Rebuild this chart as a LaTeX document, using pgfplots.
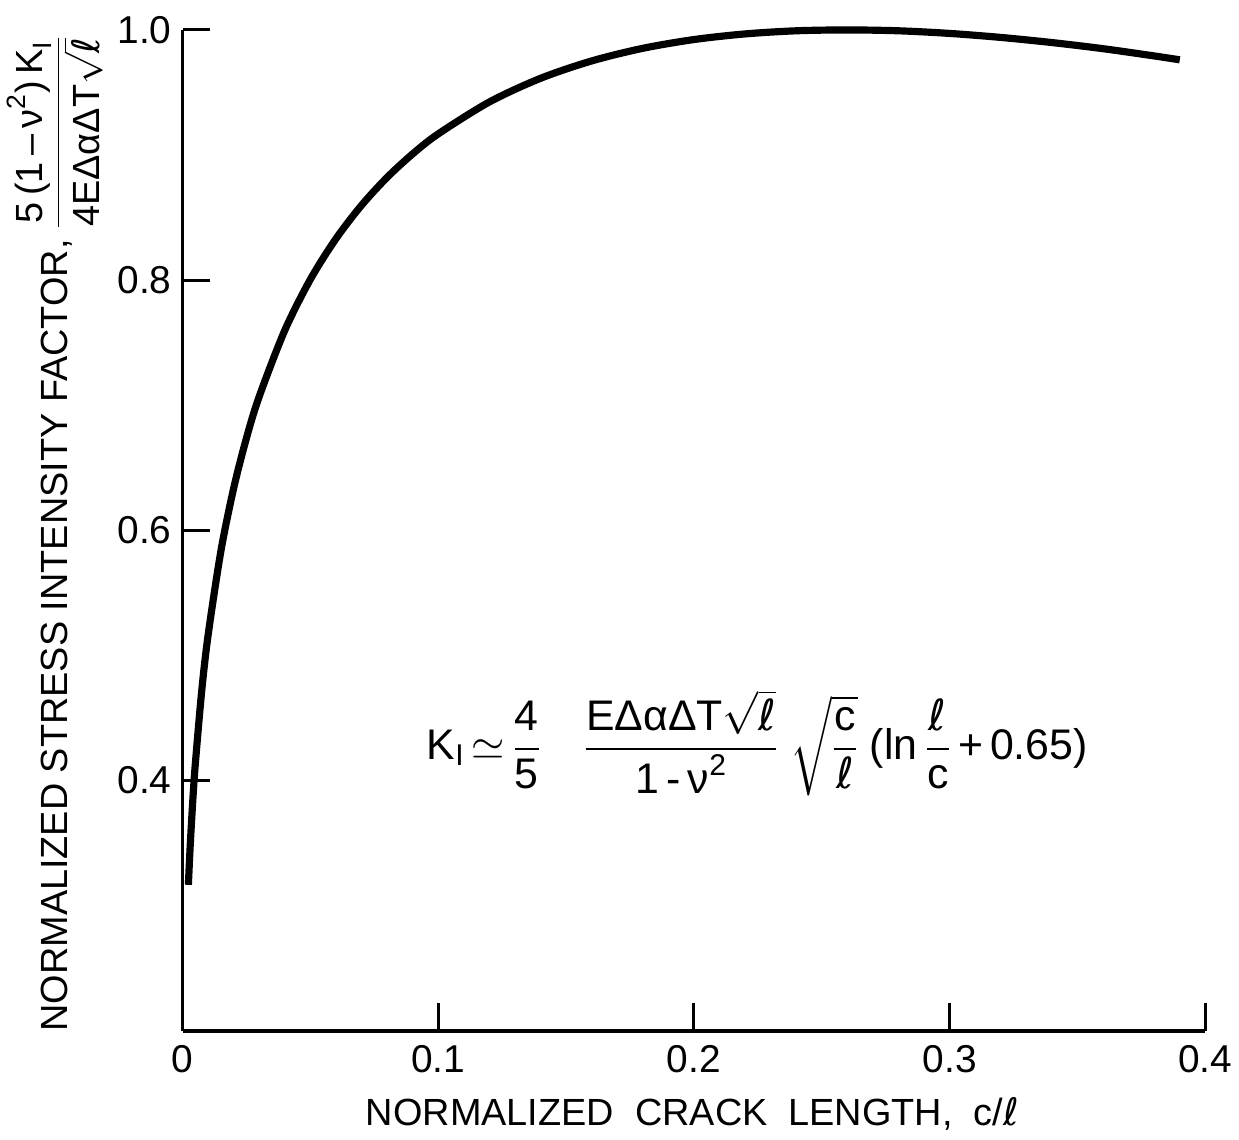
\RequirePackage{fix-cm}
\documentclass[border=0pt]{standalone}
\usepackage{amsmath}
\usepackage{fontspec}
\setmainfont{Liberation Sans}
\newfontfamily\dv{DejaVu Sans}
\usepackage{pgfplots}
\pgfplotsset{compat=1.18}
\newcommand{\lt}{{\dv ℓ}}
\newcommand{\T}[1]{\text{#1}}
\begin{document}
\begin{tikzpicture}
\begin{axis}[
  scale only axis, width=513.5pt, height=502.5pt,
  xmin=0, xmax=0.4, ymin=0.2, ymax=1.0,
  axis x line*=bottom, axis y line*=left,
  axis line style={line width=2pt, -},
  xtick={0,0.1,0.2,0.3,0.4}, xticklabels={0,0.1,0.2,0.3,0.4},
  ytick={0.4,0.6,0.8,1.0}, yticklabels={0.4,0.6,0.8,1.0},
  tick align=inside, major tick length=14pt,
  tick style={line width=1.5pt, black},
  every tick label/.append style={font=\fontsize{19.5}{22}\selectfont},
  yticklabel style={xshift=-2pt},
  xticklabel style={yshift=-4pt},
  clip=false,
  xlabel={NORMALIZED\ \ CRACK\ \ LENGTH,\ \ c/\lt},
  xlabel style={at={(rel axis cs:0.4985,-0.0826)}, anchor=center, font=\fontsize{19}{22}\selectfont},
  ylabel={NORMALIZED STRESS INTENSITY FACTOR, $\dfrac{\T{5\,(1\,--\,ν}^{\T{2}}\T{)\,K}_{\T{I}}}{\T{4EΔαΔT}\sqrt{\T{\lt}}}$},
  ylabel style={at={(rel axis cs:-0.125,0.497)}, anchor=center, font=\fontsize{19}{21}\selectfont},
]
\addplot[line width=3.6pt, black, smooth] coordinates {
(0.0023,0.3167) (0.003,0.3474) (0.004,0.3833) (0.005,0.4130) (0.0075,0.4714)
(0.01,0.5161) (0.015,0.5833) (0.02,0.6336) (0.025,0.6737) (0.03,0.7070)
(0.04,0.7599) (0.05,0.8006) (0.06,0.8331) (0.07,0.8598) (0.08,0.8821)
(0.09,0.9009) (0.10,0.9169) (0.12,0.9424) (0.14,0.9613) (0.16,0.9752)
(0.18,0.9853) (0.20,0.9923) (0.22,0.9968) (0.24,0.9993) (0.26,1.0000)
(0.28,0.9993) (0.30,0.9972) (0.32,0.9940) (0.34,0.9899) (0.36,0.9850)
(0.38,0.9792) (0.39,0.9761)
};
\node[font=\fontsize{21.5}{24}\selectfont] at (axis cs:0.2248,0.43)
 {$\T{K}_{\T{I}}\,{\simeq}\,\dfrac{\T{4}}{\T{5}}\quad\dfrac{\T{EΔαΔT}\sqrt{\T{\lt}}}{\T{1\,-\,ν}^{\T{2}}}\;\sqrt{\dfrac{\T{c}}{\T{\lt}}}\;\T{(ln\,}\dfrac{\T{\lt}}{\T{c}}\,\T{+\,0.65)}$};
\path (rel axis cs:-0.1782,-0.1085) rectangle (rel axis cs:1.0282,1.0299);
\end{axis}
\end{tikzpicture}
\end{document}
